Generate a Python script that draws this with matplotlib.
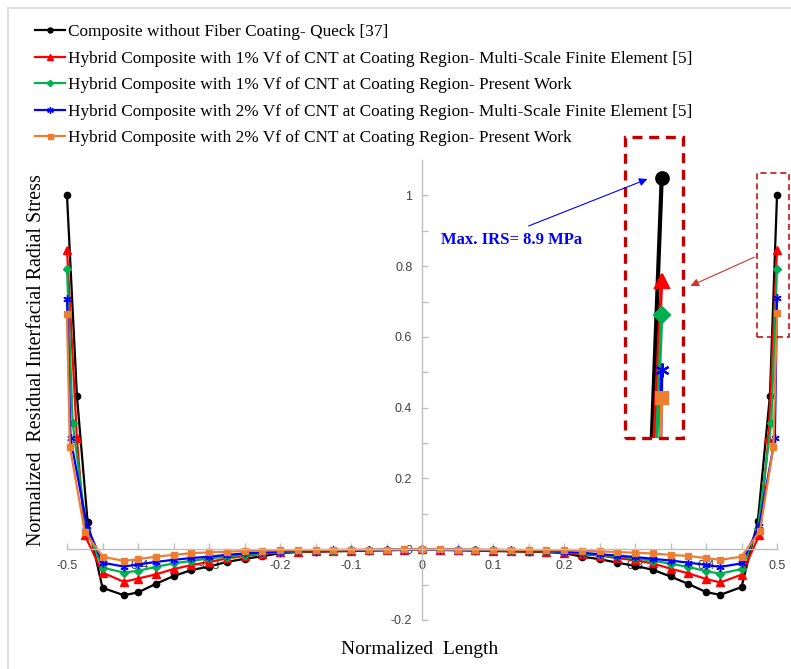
import numpy as np
import matplotlib.pyplot as plt
from matplotlib.lines import Line2D
from matplotlib.patches import Rectangle, FancyArrowPatch

plt.rcParams['font.family'] = ['Liberation Serif', 'DejaVu Serif']

# ---- data (normalized length vs normalized stress)
x_inner = [-0.45, -0.42, -0.40, -0.375, -0.35, -0.325, -0.30, -0.275, -0.25,
           -0.225, -0.20, -0.175, -0.15, -0.125, -0.10, -0.075, -0.05, -0.025,
           0.0, 0.025, 0.05, 0.075, 0.10, 0.125, 0.15, 0.175, 0.20, 0.225,
           0.25, 0.275, 0.30, 0.325, 0.35, 0.375, 0.40, 0.42, 0.45]

x_black = [-0.5, -0.486, -0.471] + x_inner + [0.473, 0.49, 0.5]
y_black = [1.0, 0.433, 0.078, -0.109, -0.130, -0.122, -0.098, -0.076, -0.059,
           -0.049, -0.036, -0.027, -0.020, -0.011, -0.008, -0.007, -0.006,
           -0.005, -0.004, -0.003, -0.002,
           -0.001,
           -0.002, -0.003, -0.004, -0.005, -0.006, -0.007, -0.008, -0.011,
           -0.021, -0.028, -0.038, -0.047, -0.058, -0.077, -0.098,
           -0.121, -0.129, -0.107, 0.080, 0.433, 1.0]

x_red = [-0.5, -0.486, -0.475] + x_inner + [0.475, 0.488, 0.5]
y_red = [0.847, 0.313, 0.040, -0.066, -0.092, -0.083, -0.071, -0.056, -0.045,
         -0.036, -0.026, -0.019, -0.013, -0.009, -0.007, -0.006, -0.005,
         -0.004, -0.003, -0.002, -0.001,
         0.0,
         -0.001, -0.002, -0.003, -0.004, -0.005, -0.006, -0.007, -0.010,
         -0.014, -0.018, -0.025, -0.031, -0.040, -0.055, -0.068,
         -0.084, -0.094, -0.072, 0.040, 0.313, 0.845]

x_green = [-0.5, -0.492, -0.473] + x_inner + [0.473, 0.492, 0.5]
y_green = [0.793, 0.358, 0.058, -0.052, -0.066, -0.061, -0.050, -0.040, -0.033,
           -0.026, -0.021, -0.015, -0.011, -0.008, -0.006, -0.005, -0.004,
           -0.003, -0.002, -0.002, -0.001,
           0.0,
           -0.001, -0.002, -0.002, -0.003, -0.004, -0.005, -0.006, -0.008,
           -0.012, -0.016, -0.020, -0.026, -0.032, -0.041, -0.050,
           -0.062, -0.069, -0.056, 0.058, 0.358, 0.793]

x_blue = [-0.5, -0.495, -0.472] + x_inner + [0.475, 0.497, 0.5]
y_blue = [0.708, 0.313, 0.066, -0.038, -0.049, -0.043, -0.036, -0.030, -0.025,
          -0.021, -0.016, -0.012, -0.009, -0.007, -0.005, -0.004, -0.003,
          -0.003, -0.002, -0.001, -0.001,
          0.0,
          -0.001, -0.001, -0.002, -0.003, -0.003, -0.004, -0.005, -0.007,
          -0.010, -0.014, -0.018, -0.022, -0.027, -0.032, -0.038,
          -0.044, -0.050, -0.040, 0.066, 0.313, 0.710]

x_orange = [-0.5, -0.496, -0.475] + x_inner + [0.476, 0.495, 0.5]
y_orange = [0.666, 0.290, 0.050, -0.021, -0.033, -0.028, -0.021, -0.016, -0.011,
            -0.009, -0.007, -0.005, -0.004, -0.003, -0.003, -0.002, -0.002,
            -0.001, -0.001, -0.001, 0.0,
            0.0,
            0.0, -0.001, -0.001, -0.001, -0.002, -0.002, -0.003, -0.003,
            -0.004, -0.006, -0.008, -0.010, -0.012, -0.016, -0.019,
            -0.025, -0.030, -0.021, 0.052, 0.290, 0.668]

labels = ['Composite without Fiber Coating- Queck [37]',
          'Hybrid Composite with 1% Vf of CNT at Coating Region- Multi-Scale Finite Element [5]',
          'Hybrid Composite with 1% Vf of CNT at Coating Region- Present Work',
          'Hybrid Composite with 2% Vf of CNT at Coating Region- Multi-Scale Finite Element [5]',
          'Hybrid Composite with 2% Vf of CNT at Coating Region- Present Work']

xticks = [-0.5, -0.4, -0.3, -0.2, -0.1, 0, 0.1, 0.2, 0.3, 0.4, 0.5]
xticklabels = ['-0.5', '-0.4', '-0.3', '-0.2', '-0.1', '0', '0.1', '0.2', '0.3', '0.4', '0.5']
yticks = [-0.2, 0, 0.2, 0.4, 0.6, 0.8, 1.0]
yticklabels = ['-0.2', '0', '0.2', '0.4', '0.6', '0.8', '1']

series = [(x_black, y_black), (x_red, y_red), (x_green, y_green),
          (x_blue, y_blue), (x_orange, y_orange)]
colors = ['#000000', '#ff0000', '#00b050', '#0000ff', '#ed7d31']
markers = ['o', '^', 'D', (6, 2, 0), 's']
msizes = [4.5, 5.5, 4.0, 6.0, 4.5]

W, H = 791, 669
def fx(x):
    return x / W
def fy(y):
    return 1 - y / H

fig = plt.figure(figsize=(W / 100, H / 100), dpi=100)

# chart area border (top and left edges visible)
fig.add_artist(Line2D([fx(8), fx(8)], [fy(8), 0], color='#d9d9d9', lw=1.2))
fig.add_artist(Line2D([fx(8), 1], [fy(8), fy(8)], color='#d9d9d9', lw=1.2))

ax = fig.add_axes([fx(67), fy(620), fx(777) - fx(67), fy(160) - fy(620)])
for (xs, ys), c, m, ms in zip(series, colors, markers, msizes):
    ax.plot(xs, ys, color=c, lw=1.6, marker=m, ms=ms, mew=1.0, clip_on=False)

ax.set_xlim(-0.5, 0.5)
ax.set_ylim(-0.2, 1.1)
ax.spines['left'].set_position(('data', 0))
ax.spines['bottom'].set_position(('data', 0))
ax.spines['top'].set_visible(False)
ax.spines['right'].set_visible(False)
for s in ['left', 'bottom']:
    ax.spines[s].set_color('#bfbfbf')
    ax.spines[s].set_linewidth(1.0)
ax.set_xticks(xticks)
ax.set_xticklabels(xticklabels)
ax.set_xticks([-0.45, -0.35, -0.25, -0.15, -0.05, 0.05, 0.15, 0.25, 0.35, 0.45], minor=True)
ax.set_yticks(yticks)
ax.set_yticklabels(yticklabels)
ax.set_yticks([-0.1, 0.1, 0.3, 0.5, 0.7, 0.9], minor=True)
ax.tick_params(which='both', direction='in', length=4, color='#bfbfbf', width=1.0,
               labelsize=9, labelcolor='#404040')
ax.tick_params(axis='x', pad=8)
ax.tick_params(axis='y', pad=7)
for t in ax.get_xticklabels() + ax.get_yticklabels():
    t.set_fontfamily('Liberation Sans')
ax.patch.set_alpha(0)

fig.text(fx(37), fy(360), 'Normalized  Residual Interfacial Radial Stress',
         rotation=90, ha='center', va='center', fontsize=14.4)
fig.text(fx(420), fy(650), 'Normalized  Length', ha='center', va='center', fontsize=14)

# legend
handles = [Line2D([], [], color=c, lw=1.6, marker=m, ms=ms * 0.8, mew=1.0)
           for c, m, ms in zip(colors, markers, msizes)]
fig.legend(handles, labels, loc='upper left', bbox_to_anchor=(fx(35), fy(24)),
           frameon=False, fontsize=12.4, handlelength=1.74, handletextpad=0.17,
           labelspacing=0.61, borderpad=0, borderaxespad=0)

# zoomed inset of the right edge
ins = fig.add_axes([fx(625), fy(438), fx(683) - fx(625), fy(137) - fy(438)])
ins_lw = [3.0, 2.4, 2.4, 2.4, 2.4]
ins_ms = [9, 10, 8, 10, 8]
for (xs, ys), c, m, lw, ms in zip(series, colors, markers, ins_lw, ins_ms):
    ins.plot(xs, ys, color=c, lw=lw, marker=m, ms=ms, mew=1.6)
ins.set_xlim(0.4743, 0.5149)
ins.set_ylim(0.607, 1.062)
ins.axis('off')

fig.add_artist(Rectangle((fx(625), fy(438)), fx(683) - fx(625), fy(137) - fy(438),
                         fill=False, ec='#c00000', lw=2.4, ls=(0, (3, 2))))
fig.add_artist(Rectangle((fx(757), fy(337)), fx(789) - fx(757), fy(173) - fy(337),
                         fill=False, ec='#c00000', lw=1.1, ls=(0, (4, 2.5))))

fig.add_artist(FancyArrowPatch((fx(757), fy(256)), (fx(688), fy(287)),
                               transform=fig.transFigure, arrowstyle='-|>',
                               mutation_scale=12, color='#d03030', lw=0.8))
fig.add_artist(FancyArrowPatch((fx(526), fy(227)), (fx(650), fy(178)),
                               transform=fig.transFigure, arrowstyle='-|>',
                               mutation_scale=12, color='#0000ff', lw=0.8))
fig.text(fx(441), fy(240), 'Max. IRS= 8.9 MPa', color='#0000ff', fontsize=12,
         fontweight='bold', ha='left', va='center')

fig.savefig('out.png', dpi=100)
